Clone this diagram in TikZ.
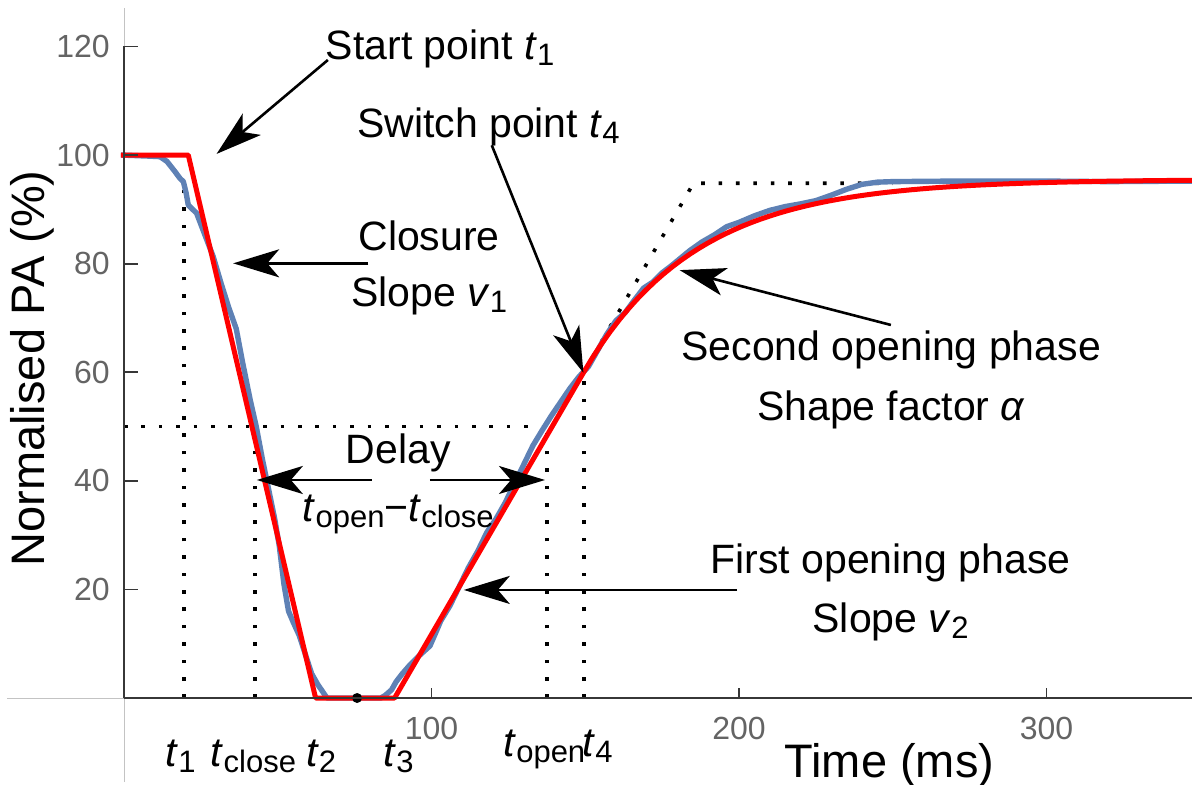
\documentclass[tikz,border=0pt]{standalone}
\usepackage{fontspec}
\setmainfont{Liberation Sans}
\usetikzlibrary{arrows.meta,positioning}

\definecolor{datablue}{RGB}{94,129,181}
\definecolor{fitred}{RGB}{255,0,0}
\definecolor{axisgray}{RGB}{55,55,55}
\definecolor{tickgray}{RGB}{100,100,100}
\definecolor{gridgray}{RGB}{195,195,195}

\newcommand\subsym[2]{\textit{#1}\raisebox{-3pt}{\fontsize{15.5}{15.5}\selectfont #2}}

\begin{document}
\begin{tikzpicture}
    [x=1.5375pt, y=2.715pt,
    % STYLES
    % The note style is used for the annotations and the time labels
    note/.style={font=\fontsize{20.5}{24}\selectfont, inner sep=0pt, anchor=base},
    % The ticklab style is used for the numbers on the axes
    ticklab/.style={font=\fontsize{16}{19}\selectfont, text=tickgray, inner sep=0pt},
    axlab/.style={font=\fontsize{23.5}{28}\selectfont, inner sep=0pt, anchor=base},
    guide/.style={line width=1.8pt, dash pattern=on 1.8pt off 6.9pt},
    pointer/.style={-{Stealth[length=23pt, width=14pt, inset=6pt]}, line width=1.3pt},
    datacurve/.style={datablue, line width=2.7pt, line join=round},
    fitcurve/.style={fitred, line width=2.5pt, line join=round}]

    \useasboundingbox (-40.33,-16.02) rectangle (347.32,128.55);

    % thin lines through the origin
    \draw[gridgray, line width=0.5pt] (-38,0) -- (348,0);
    \draw[gridgray, line width=0.5pt] (0,-15.5) -- (0,127);

    % Draw guides
    \draw[guide] (0,50) -- (137.5,50);
    \draw[guide] (19.5,0) -- (19.5,95);
    \draw[guide] (42.6,0) -- (42.6,50);
    \draw[guide] (137.5,0) -- (137.5,50);
    \draw[guide] (149.5,0) -- (149.5,60);
    \draw[guide] (149.5,60) -- (185.2,94.8) -- (250,94.8);

    % Draw curves
    \begin{scope}
        \clip (-1.2,-0.6) rectangle (348,130);
        \draw[datacurve] plot coordinates {(-1,100) (8,99.8) (11.7,99.7) (14,98.8) (16.5,97) (18.2,95.7)
            (19.3,95.1) (20.2,93) (20.9,90.8) (22.3,90) (23.6,89.3) (26.3,85.3) (29,81.3) (31.5,76.5)
            (34,72) (36.5,68) (38.5,62) (41,55) (43,50) (45,44) (47,38.5) (49,33) (50.5,28) (52,21)
            (53.5,16) (55,14) (57,11.5) (59,8) (61,4.5) (63,2.5) (66,0) (83.5,0) (85,0.5) (87,1.5)
            (88.5,3) (90.4,4.4) (93,6.1) (96,7.8) (99.5,9.6) (101.5,12.2) (103,14.2) (106,17) (109,20.5)
            (112,24) (115,27) (118,30.5) (121,33) (124,36) (127,39.5) (130,43) (133,46.5) (136,49.3)
            (139,52) (142,54.5) (145,57) (148,59.2) (151,61) (154,64) (157,67) (160,69.5) (163,71)
            (166,73.3) (169,75.5) (172,76.6) (175,78.3) (178,79.6) (181,81) (184,82.4) (188,84)
            (192,85.3) (196,86.8) (200,87.6) (205,88.8) (210,89.8) (215,90.5) (220,91) (225,91.6)
            (230,92.6) (235,93.7) (240,94.6) (245,95) (250,95.1) (270,95.2) (300,95.2) (320,95.1) (348,95.2)};
        \draw[fitcurve] (-1,100) -- (20.9,100) -- (62.3,0) -- (88,0) -- (149.5,60)
            -- plot[domain=149.5:348, samples=70] (\x,{95.5-35.5*exp(-(\x-149.5)/36.4)});
    \end{scope}
    \node[circle, fill=black, inner sep=0pt, minimum size=5pt] (mindot) at (75.8,0) {};

    % Draw axes
    \draw[axisgray, line width=1.1pt] (0,0) -- (0,120);
    \draw[axisgray, line width=1.1pt] (0,0) -- (348,0);
    \foreach \v in {20,40,...,120} {
        \draw[axisgray, line width=0.9pt] (0,\v) -- ++(7pt,0);
        \node[ticklab, anchor=east] (ytick\v) at (-4.5,\v) {\v};
    }
    \foreach \v in {100,200,300} {
        \draw[axisgray, line width=0.9pt] (\v,0) -- ++(0,5pt);
        \node[ticklab] (xtick\v) at (\v,-5.6) {\v};
    }
    \node[axlab] (xlabel) at (248.9,-14.7) {Time (ms)};
    \node[axlab, rotate=90] (ylabel) at (-25.7,60.7) {Normalised PA (\%)};

    % Draw time labels
    \node[note] (lt1) at (18.4,-12.7) {\subsym{t}{1}};
    \node[note] (ltclose) at (42.1,-12.7) {\subsym{t}{close}};
    \node[note] (lt2) at (64.1,-12.7) {\subsym{t}{2}};
    \node[note] (lt3) at (89.3,-12.7) {\subsym{t}{3}};
    \node[note] (ltopen) at (136.7,-10.8) {\subsym{t}{open}};
    \node[note] (lt4) at (154,-10.8) {\subsym{t}{4}};

    % Draw annotations
    \node[note] (startpt) at (102.8,117.5) {Start point \subsym{t}{1}};
    \node[note] (switchpt) at (118.5,103.2) {Switch point \subsym{t}{4}};
    \node[note] (closure) at (99.2,82.4) {Closure};
    \node[note, below=28pt of closure.base, anchor=base] (slope1) {Slope \subsym{v}{1}};
    \node[note] (delay) at (89.2,43.2) {Delay};
    \node[note, below=29pt of delay.base, anchor=base] (diff) {\subsym{t}{open}−\subsym{t}{close}};
    \node[note] (second) at (249.5,62.1) {Second opening phase};
    \node[note, below=30pt of second.base, anchor=base] (shape) {Shape factor \textit{α}};
    \node[note] (first) at (249.3,23) {First opening phase};
    \node[note, below=29.5pt of first.base, anchor=base] (slope2) {Slope \subsym{v}{2}};

    % Draw the pointers
    \coordinate (starttail) at (66.3,117.5);
    \coordinate (starttip) at (30.1,100.2);
    \coordinate (closetail) at (79.5,80.05);
    \coordinate (closetip) at (35.5,80.05);
    \coordinate (switchtail) at (119.6,101.8);
    \coordinate (switchtip) at (149.4,59.9);
    \coordinate (delayltail) at (80.5,40.15);
    \coordinate (delayltip) at (43.2,40.15);
    \coordinate (delayrtail) at (99.5,40.15);
    \coordinate (delayrtip) at (136.9,40.15);
    \coordinate (secondtail) at (249.4,68.7);
    \coordinate (secondtip) at (180.7,78.8);
    \coordinate (firsttail) at (199.4,19.9);
    \coordinate (firsttip) at (110.5,19.9);
    \draw[pointer] (starttail) -- (starttip);
    \draw[pointer] (closetail) -- (closetip);
    \draw[pointer] (switchtail) -- (switchtip);
    \draw[pointer] (delayltail) -- (delayltip);
    \draw[pointer] (delayrtail) -- (delayrtip);
    \draw[pointer] (secondtail) -- (secondtip);
    \draw[pointer] (firsttail) -- (firsttip);
\end{tikzpicture}
\end{document}
